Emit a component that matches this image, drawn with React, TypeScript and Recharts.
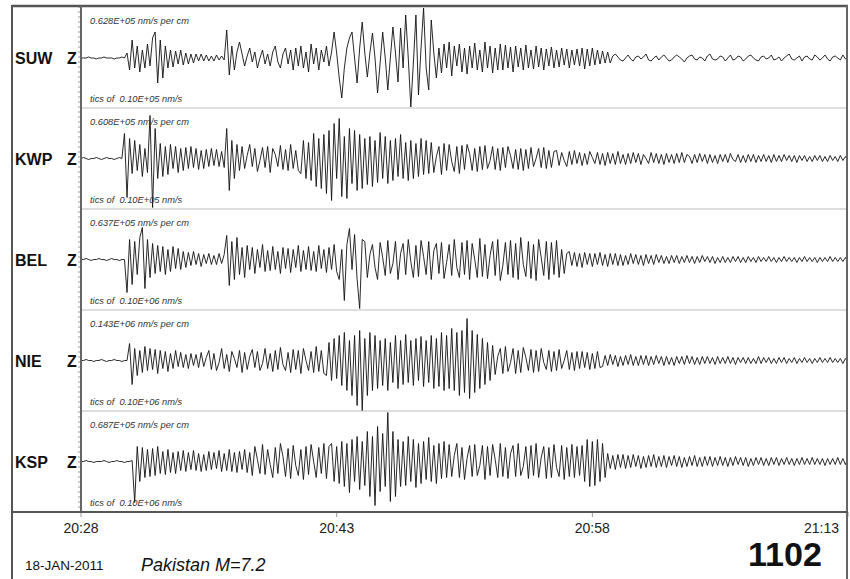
import React from 'react';
import { ComposedChart, Line, XAxis, YAxis, ReferenceLine } from 'recharts';

const FONT = '"Liberation Sans", Arial, Helvetica, sans-serif';

const stations = ['SUW', 'KWP', 'BEL', 'NIE', 'KSP'];
const scaleLabels = [
  '0.628E+05 nm/s per cm',
  '0.608E+05 nm/s per cm',
  '0.637E+05 nm/s per cm',
  '0.143E+06 nm/s per cm',
  '0.687E+05 nm/s per cm',
];
const ticLabels = [
  'tics of  0.10E+05 nm/s',
  'tics of  0.10E+05 nm/s',
  'tics of  0.10E+06 nm/s',
  'tics of  0.10E+06 nm/s',
  'tics of  0.10E+06 nm/s',
];
const timeTicks = [0, 15, 30, 45];
const timeLabels = ['20:28', '20:43', '20:58', '21:13'];
const dateLabel = '18-JAN-2011';
const eventLabel = 'Pakistan M=7.2';
const dayLabel = '1102';

// amplitudes (pixel-scale counts), sampled evenly over 20:28 - 21:13
const suw = [
  0,0,0,1,0,0,-1,0,0,1,0,0,0,-1,0,0,1,0,
  5,-12,18,-10,12,-14,8,-10,14,-8,20,26,-25,18,-20,12,-10,8,
  -9,7,-6,8,-7,5,-6,4,-5,4,-3,4,-3,3,-3,2,-3,3,-2,2,-2,
  28,-17,12,-12,6,16,4,-8,2,10,-4,6,-10,0,8,-6,4,-8,6,12,-4,-10,4,10,-6,8,-12,10,-8,
  12,-10,6,-14,14,-6,10,-12,8,-4,12,-8,6,
  26,5,-20,-40,-10,10,20,26,0,-25,10,36,5,-19,5,25,0,-35,-5,26,0,-32,0,31,5,-24,30,-10,43,0,-49,-5,43,-37,10,50,-10,-32,38,5,-20,10,
  -15,14,-10,16,-18,12,-8,14,-14,10,-16,12,-10,15,-12,8,-14,16,-10,12,-15,10,-12,14,
  -12,13,-10,11,-14,12,-9,10,-12,13,-10,8,-11,12,-9,10,-12,9,-8,11,-10,8,-9,10,-7,9,-10,8,-7,9,-8,10,-11,9,-8,10,-7,8,-6,7,-5,6,-5,
  2,4,1,-2,-3,0,3,-1,-3,1,2,-1,1,4,-2,-3,0,2,-2,1,
  3,0,-3,-2,1,3,1,-1,-4,0,2,3,-1,-2,1,0,-3,2,4,-1,
  -2,-1,2,1,-3,0,3,-2,-1,2,1,-3,-1,2,3,0,-2,-3,1,2,
  -1,0,3,-2,-1,1,-3,0,2,4,-1,-2,0,2,-3,1,2,-1,-2,3,
  1,-2,0,3,-1,-3,1,2,0,-2,3,-1,-2,
];

const kwp = [
  0,1,0,-1,0,0,1,0,-1,0,1,0,0,-1,0,1,0,
  25,-39,20,-15,18,-12,14,-18,10,-14,43,-49,30,-20,15,-18,12,-16,14,-10,12,-14,10,-12,
  11,-10,12,-9,10,-11,8,-10,9,-8,10,-7,9,-8,7,-9,
  30,-32,18,-20,14,-12,
  12,-10,3,14,-8,10,-13,-2,11,-9,12,-14,10,4,-8,13,-11,9,-12,14,-10,8,-12,
  -15,18,-20,16,-22,25,-28,20,-30,24,-35,28,-42,35,-20,40,-38,22,-40,30,-25,28,-32,24,-30,20,-26,22,-28,18,-24,26,-20,22,-25,18,-22,20,-18,24,-20,16,-22,18,-20,15,-18,20,-16,18,
  -15,16,-14,2,12,-16,15,-12,14,-3,-13,12,-15,13,-11,14,5,-12,10,-13,
  12,-11,13,-10,-2,12,-11,10,-12,11,-9,12,3,-10,9,-11,10,-12,9,-10,
  11,-8,0,10,-9,11,-10,8,-9,7,
  8,-7,6,-2,-8,7,-6,8,-5,6,-7,5,-6,7,1,-5,6,-6,5,-7,6,-5,5,-6,7,-5,4,-6,5,-5,
  6,-4,5,-6,4,0,-5,6,-4,5,-5,4,-6,5,-4,4,-5,5,-4,6,-4,4,2,-5,4,-4,5,-3,4,-5,
  4,-4,3,-5,4,-3,4,-4,5,-1,-3,4,-4,3,-4,4,-3,4,-4,3,-3,4,-3,3,-4,4,-3,3,-3,4,
  -2,3,-3,3,-4,3,-2,3,-3,2,-3,3,-2,3,-3,2,-3,3,-2,2,-3,3,-2,2,-2,
];

const bel = [
  0,0,1,0,-1,0,0,1,0,0,-1,0,1,0,0,-1,0,0,
  -33,20,-25,18,-15,22,32,-29,20,-18,16,-14,14,-12,13,-15,10,-12,13,-9,11,-10,8,
  -8,7,-6,8,-5,6,-7,5,-4,6,-5,4,-5,6,-4,5,
  24,-26,18,-20,22,-15,12,-18,14,-10,
  12,-14,10,-8,15,-12,9,-11,13,-10,8,-14,12,-9,11,-13,10,-8,14,-12,9,-10,13,-11,8,-12,14,-9,10,-13,12,-10,15,-12,
  -20,10,-41,15,31,-10,25,-20,-49,20,18,
  -18,5,15,-8,-20,17,2,-16,19,-14,-4,18,-20,6,16,-15,20,-2,-18,14,
  -17,19,3,-15,18,-20,9,16,-14,17,-19,-3,15,-16,20,-8,-18,17,-15,19,
  -20,16,0,-18,21,-17,15,-19,4,18,-16,20,-21,-6,17,-15,19,-18,16,-20,
  22,-5,-17,18,-19,15,-21,20,2,-16,18,-20,17,-15,19,-18,10,-14,6,
  8,-6,7,-7,6,-8,7,-5,6,-7,6,-5,7,-6,5,-7,6,-5,6,-6,5,-6,4,-5,6,-4,5,-5,4,-6,
  5,-4,4,-5,5,-3,4,-4,3,-4,4,-3,4,-4,3,-3,4,-3,3,-4,3,-3,4,-2,3,-3,3,-4,2,-3,
  3,-3,2,-3,3,-2,3,-3,2,-3,3,-2,2,-3,3,-2,2,-2,3,-2,2,-3,2,-2,3,-2,2,-2,2,-3,
  2,-2,3,-2,2,-2,2,-3,2,-2,2,-2,3,-2,2,-2,2,-2,2,-3,
];

const nie = [
  0,0,1,0,0,-1,0,0,1,0,-1,0,0,1,0,0,-1,0,0,
  17,-24,12,-15,10,-12,14,-10,12,-9,11,-13,
  10,-8,9,-11,7,-8,10,-6,8,-7,6,-8,7,-5,6,-7,
  8,-6,3,10,-9,7,-10,-2,12,-8,6,-11,9,2,-7,10,-12,8,-9,4,
  11,-7,9,-10,-3,12,-8,7,-11,10,-9,13,-4,-10,8,-12,11,-9,10,-13,
  12,0,-10,9,-12,14,-11,10,-13,
  -15,18,-20,22,-18,25,-25,28,-30,20,-35,25,-45,30,-50,22,-35,28,-30,25,-28,20,-25,22,-30,18,-22,25,-28,20,
  -24,26,-22,20,-25,22,-20,24,-26,20,-22,25,-28,22,-26,
  28,-30,25,-28,32,-30,28,-35,30,-32,42,-38,30,-32,26,-28,22,-24,18,-20,
  15,-14,4,12,-13,14,-11,-2,12,-13,10,-12,13,3,-10,11,-12,10,-11,12,
  -2,-9,10,-11,9,-10,11,-8,0,10,-9,8,-10,9,-8,9,-7,8,-9,7,
  -8,9,-7,
  -6,5,-5,6,-4,5,-6,4,-5,5,-4,6,-5,4,-5,5,-4,5,-5,4,-4,5,-3,4,-5,4,-4,3,-5,4,
  -3,4,-4,5,-3,4,-4,3,-4,4,-3,4,-3,3,-4,4,-3,3,-3,4,-3,3,-4,3,-2,3,-3,3,-3,2,
  -3,4,-3,3,-2,3,-3,2,-3,3,-2,3,-3,2,-2,3,-3,2,-2,3,-2,2,-3,2,-2,3,-2,2,-2,3,
  -2,2,-2,2,-3,2,-2,
];

const ksp = [
  0,0,1,0,0,-1,0,0,0,1,0,-1,0,0,1,0,0,-1,0,0,1,
  -41,15,-20,14,-16,12,-15,13,-14,15,-12,10,-13,12,-11,9,-12,10,-9,11,
  -10,9,-8,11,-9,8,-10,7,-9,10,-8,9,-7,11,-10,8,-9,12,-10,9,-11,10,-8,12,-11,9,
  -14,15,2,-12,17,-13,12,-3,-16,14,-12,18,5,-15,13,-17,16,-4,-14,12,
  -18,15,-13,17,0,-16,14,-12,18,-17,15,
  18,-20,15,-22,20,-25,18,-31,22,-20,25,-28,20,
  -24,30,-35,25,-44,35,-30,28,-25,49,-40,30,-35,22,-25,
  20,-24,25,-20,22,-26,18,-22,20,-18,24,-20,16,-22,18,-17,20,-16,
  17,-15,6,18,-16,14,-18,3,16,-15,17,-14,-4,16,-18,15,-14,17,2,-16,
  18,-15,14,-17,8,16,-15,18,-14,-5,15,-17,16,-14,18,-16,4,15,-17,14,
  -16,17,-6,-15,16,-18,14,-15,17,-16,15,-14,16,-20,22,-25,20,-24,22,-20,
  18,-16,
  8,-7,6,-8,7,-6,7,-7,6,-6,7,-5,6,-7,5,-6,6,-5,7,-6,5,-5,6,-6,5,-4,6,-5,5,-6,
  4,-5,5,-4,6,-5,4,-5,5,-4,5,-5,4,-4,5,-4,4,-5,4,-4,5,-3,4,-4,4,-5,3,-4,4,-3,
  4,-4,3,-4,4,-3,4,-4,3,-3,4,-3,3,-4,3,-3,4,-3,3,-3,4,-3,3,-3,3,-4,3,-3,3,-3,
  4,-3,3,-3,3,
];

const traces = [suw, kwp, bel, nie, ksp];

// layout
const W = 850;
const H = 579;
const PLOT_LEFT = 81;
const PLOT_TOP = 7;
const PLOT_BOTTOM = 512;
const PANEL_H = 101;
const Y_AXIS_W = 4;
const baselines = [454, 353.5, 252.5, 151.5, 50.5]; // in y-axis units (px above bottom)
const separators = [101, 202, 303, 404];
const yTicks = Array.from({ length: 102 }, (_, k) => k * 5);

const seriesData = traces.map((arr, s) =>
  arr.map((v, i) => ({ t: (i * 45) / (arr.length - 1), v: v + baselines[s] }))
);

const TimeTick = (props: any) => {
  const { x, y, payload } = props;
  const idx = timeTicks.indexOf(payload.value);
  const last = idx === timeTicks.length - 1;
  return (
    <text
      x={last ? x - 3 : x}
      y={y + 14}
      textAnchor={last ? 'end' : 'middle'}
      fontSize={14}
      fill="#222"
      fontFamily={FONT}
    >
      {timeLabels[idx]}
    </text>
  );
};

const EmptyTick = () => <g />;

export default function App() {
  return (
    <div style={{ position: 'absolute', left: 0, top: 0, width: W, height: H, background: '#fff' }}>
      <ComposedChart
        width={W}
        height={H}
        margin={{ top: PLOT_TOP, right: W - 848, bottom: H - PLOT_BOTTOM - 30, left: PLOT_LEFT - Y_AXIS_W }}
      >
        <XAxis
          dataKey="t"
          type="number"
          domain={[0, 45]}
          ticks={timeTicks}
          height={30}
          axisLine={false}
          tickLine={{ stroke: '#999' }}
          tickSize={5}
          tick={<TimeTick />}
          allowDataOverflow
        />
        <YAxis
          type="number"
          domain={[0, 505]}
          ticks={yTicks}
          interval={0}
          width={Y_AXIS_W}
          tick={<EmptyTick />}
          tickSize={3}
          tickLine={{ stroke: '#999' }}
          axisLine={{ stroke: '#666', strokeWidth: 2 }}
          allowDataOverflow
        />
        {separators.map((y) => (
          <ReferenceLine key={y} y={y} stroke="#bdbdbd" strokeWidth={1} />
        ))}
        {seriesData.map((d, s) => (
          <Line
            key={stations[s]}
            data={d}
            dataKey="v"
            type="linear"
            stroke="#111"
            strokeWidth={0.9}
            dot={false}
            isAnimationActive={false}
          />
        ))}
      </ComposedChart>
      <svg
        width={W}
        height={H}
        style={{ position: 'absolute', left: 0, top: 0, pointerEvents: 'none' }}
      >
        <line x1={12} y1={6} x2={848} y2={6} stroke="#555" strokeWidth={2.5} />
        <line x1={12} y1={5} x2={12} y2={579} stroke="#555" strokeWidth={2} />
        <line x1={847} y1={5} x2={847} y2={579} stroke="#666" strokeWidth={2} />
        <line x1={PLOT_LEFT} y1={6} x2={PLOT_LEFT} y2={PLOT_BOTTOM} stroke="#666" strokeWidth={2} />
        <line x1={12} y1={PLOT_BOTTOM} x2={848} y2={PLOT_BOTTOM} stroke="#555" strokeWidth={2} />
        {stations.map((st, s) => {
          const top = PLOT_TOP + s * PANEL_H;
          const mid = top + PANEL_H / 2;
          return (
            <g key={st} fontFamily={FONT} fill="#111">
              <text x={15} y={mid + 6} fontSize={16} fontWeight="bold">{st}</text>
              <text x={67} y={mid + 6} fontSize={16} fontWeight="bold">Z</text>
              <text x={90} y={top + 17} fontSize={9.3} fontStyle="italic" fill="#333" style={{ whiteSpace: 'pre' }}>
                {scaleLabels[s]}
              </text>
              <text x={90} y={top + 95} fontSize={9.3} fontStyle="italic" fill="#333" style={{ whiteSpace: 'pre' }}>
                {ticLabels[s]}
              </text>
            </g>
          );
        })}
        <text x={25} y={570} fontSize={13.5} fontFamily={FONT} fill="#111">{dateLabel}</text>
        <text x={141} y={571} fontSize={18} fontStyle="italic" fontFamily={FONT} fill="#111">{eventLabel}</text>
        <text
          x={822}
          y={566}
          fontSize={33}
          fontWeight="bold"
          fontFamily={FONT}
          fill="#111"
          textAnchor="end"
          textLength={74}
          lengthAdjust="spacingAndGlyphs"
        >
          {dayLabel}
        </text>
      </svg>
    </div>
  );
}
